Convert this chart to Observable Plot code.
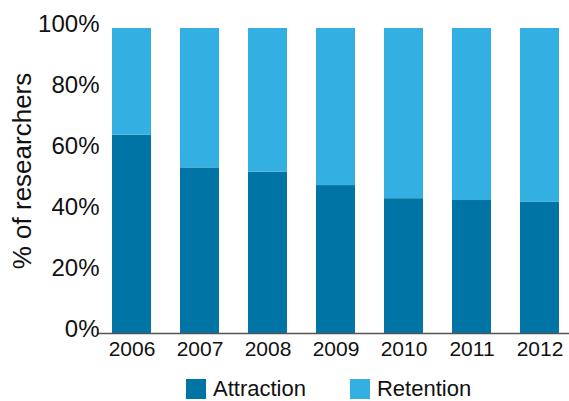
<!DOCTYPE html>
<html>
<head>
<meta charset="utf-8">
<script src="https://cdn.jsdelivr.net/npm/d3@7"></script>
<script src="https://cdn.jsdelivr.net/npm/@observablehq/plot@0.6"></script>
<style>
  html, body { margin: 0; padding: 0; background: #fff; }
  body { width: 569px; position: relative; font-family: "Liberation Sans", Arial, sans-serif; }
  #chart svg { display: block; }
  #ytitle { position: absolute; left: 22px; top: 171px; transform: translate(-50%, -50%) rotate(-90deg); white-space: nowrap; font-size: 26px; line-height: 1; color: #111; }
  #legend { display: flex; align-items: center; margin-top: 9px; padding-left: 186px; font-size: 22px; line-height: 24px; color: #111; }
  #legend .item { display: flex; align-items: center; margin-right: 44px; }
  #legend .sw { width: 20px; height: 20px; margin-right: 7px; }
</style>
</head>
<body>
<div id="chart"></div>
<script>
const years = ["2006", "2007", "2008", "2009", "2010", "2011", "2012"];
const attraction = [65.0, 54.3, 52.9, 48.5, 44.2, 43.6, 43.0];
const retention = attraction.map(v => 100 - v);
const seriesNames = ["Attraction", "Retention"];
const seriesColors = ["#0174a6", "#34afe2"];
const yTicks = [0, 20, 40, 60, 80, 100];
const yTitle = "% of researchers";

const rows = [];
years.forEach((yr, i) => {
  rows.push({year: yr, series: seriesNames[0], value: attraction[i]});
  rows.push({year: yr, series: seriesNames[1], value: retention[i]});
});

const chart = Plot.plot({
  width: 569,
  height: 368,
  marginTop: 28,
  marginBottom: 35,
  marginLeft: 97,
  marginRight: 0,
  style: {fontFamily: "'Liberation Sans', Arial, sans-serif", color: "#111", background: "#fff"},
  x: {domain: years, paddingInner: 0.43, paddingOuter: 0.185, align: 0.6, label: null},
  y: {domain: [0, 100], label: null},
  color: {domain: seriesNames, range: seriesColors},
  marks: [
    Plot.barY(rows, {x: "year", y: "value", fill: "series"}),
    Plot.ruleY([0], {stroke: "#555", strokeWidth: 1.5}),
    Plot.axisY({ticks: yTicks, tickSize: 0, tickPadding: -2, fontSize: 24, dy: -4, tickFormat: d => d + "%", label: null}),
    Plot.axisX({tickSize: 0, tickPadding: 8, fontSize: 21, label: null})
  ]
});
document.getElementById("chart").appendChild(chart);

const title = document.createElement("div");
title.id = "ytitle";
title.textContent = yTitle;
document.body.appendChild(title);

const legend = document.createElement("div");
legend.id = "legend";
seriesNames.forEach((name, i) => {
  const item = document.createElement("div");
  item.className = "item";
  const sw = document.createElement("span");
  sw.className = "sw";
  sw.style.background = seriesColors[i];
  const label = document.createElement("span");
  label.textContent = name;
  item.appendChild(sw);
  item.appendChild(label);
  legend.appendChild(item);
});
document.body.appendChild(legend);
</script>
</body>
</html>
